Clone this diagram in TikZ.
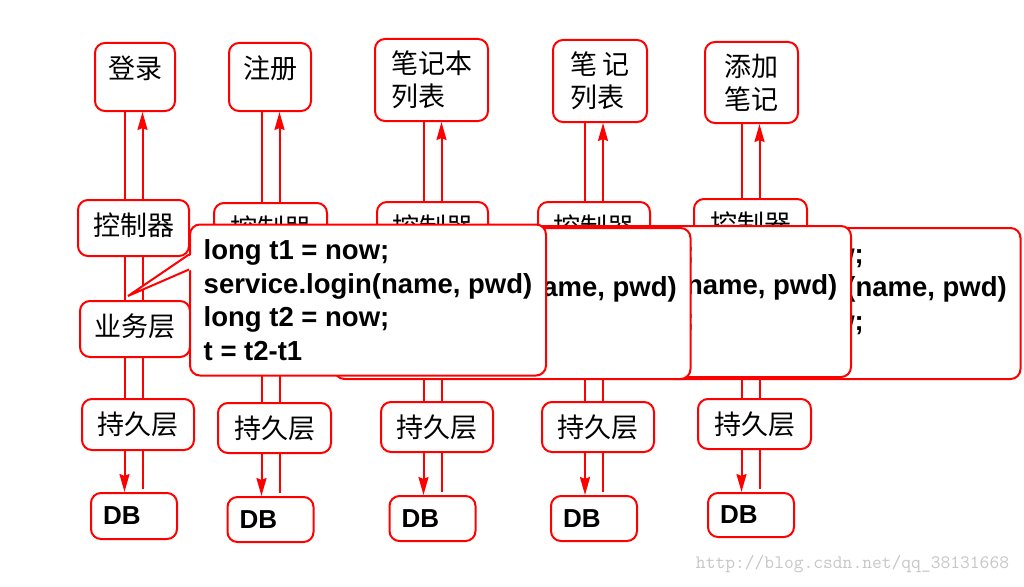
\documentclass[tikz,border=0pt]{standalone}
\usepackage{fontspec}
\newfontfamily\cjk{Noto Sans CJK SC}
\newfontfamily\codefont{Liberation Sans}
\usetikzlibrary{arrows.meta}

\begin{document}
\begin{tikzpicture}[x=1pt,y=-1pt,
  box/.style={draw=red,line width=2pt,fill=white,rounded corners=10pt,inner sep=4pt},
  page/.style={box,font=\cjk\fontsize{27}{33}\selectfont,align=left},
  layer/.style={box,font=\cjk\fontsize{27}{33}\selectfont,minimum height=56pt},
  dbbox/.style={box,font=\codefont\bfseries\fontsize{26}{30}\selectfont,inner xsep=12pt,text width=62pt,align=left},
  note/.style={box,font=\codefont\bfseries\fontsize{27.5}{33.5}\selectfont,align=left,inner xsep=13pt,minimum width=356pt,minimum height=151pt},
  link/.style={red,line width=2pt},
  up/.style={link,-{Stealth[length=18pt,width=10pt,inset=2pt]}}]

\fill[white] (0,0) rectangle (1024,586);
\useasboundingbox (0,0) rectangle (1024,586);

% 页面
\node[page,minimum width=80pt,minimum height=68pt,text depth=20pt] (v1) at (135,77) {登录};
\node[page,minimum width=82pt,minimum height=68pt,text depth=20pt] (v2) at (270,77) {注册};
\node[page,minimum width=113pt,minimum height=82pt] (v3) at (431.5,80) {笔记本\\列表};
\node[page,minimum width=94pt,minimum height=82pt] (v4) at (600,81) {笔\,记\\列表};
\node[page,minimum width=93pt,minimum height=81pt] (v5) at (751.5,82.5) {添加\\笔记};

% 控制器
\node[layer,minimum width=111pt,text depth=8pt] (c1) at (133.5,228) {控制器};
\node[layer,minimum width=113pt,text depth=8pt] (c2) at (270.5,231) {控制器};
\node[layer,minimum width=111pt,text depth=8pt] (c3) at (432.5,230) {控制器};
\node[layer,minimum width=112pt,text depth=8pt] (c4) at (594,230) {控制器};
\node[layer,minimum width=113pt,text depth=8pt] (c5) at (750.5,227) {控制器};
\node[layer,minimum width=110pt,text depth=8pt] (s1) at (135,329) {业务层};

% 持久层和数据库
\node[layer,minimum width=112pt,minimum height=51pt] (p1) at (138,424.5) {持久层};
\node[layer,minimum width=113pt,minimum height=50pt] (p2) at (274.5,428) {持久层};
\node[layer,minimum width=112pt,minimum height=50pt] (p3) at (437,427) {持久层};
\node[layer,minimum width=112pt,minimum height=50pt] (p4) at (598,427) {持久层};
\node[layer,minimum width=113pt,minimum height=50pt] (p5) at (754.5,424) {持久层};
\node[dbbox,minimum height=46pt] (db1) at (134,516) {DB};
\node[dbbox,minimum height=45pt] (db2) at (270.5,519.5) {DB};
\node[dbbox,minimum height=45pt] (db3) at (432.5,518.5) {DB};
\node[dbbox,minimum height=45pt] (db4) at (594,518.5) {DB};
\node[dbbox,minimum height=44pt] (db5) at (751,515) {DB};

% 第一列的连线
\draw[link] ([xshift=-9pt]c1.north) -- ([xshift=-9pt]c1.north |- v1.south)
  ([xshift=-9pt]c1.south) -- ([xshift=-9pt]c1.south |- s1.north)
  ([xshift=9pt]c1.south) -- ([xshift=9pt]c1.south |- s1.north)
  ([xshift=-9pt]c1.south |- s1.south) -- ([xshift=-9pt]c1.south |- p1.north)
  ([xshift=9pt]c1.south |- s1.south) -- ([xshift=9pt]c1.south |- p1.north)
  ([xshift=9pt]c1.south |- p1.south) -- ([xshift=9pt,yshift=3pt]c1.south |- db1.north);
\draw[up] ([xshift=9pt]c1.north) -- ([xshift=9pt]c1.north |- v1.south);
\draw[up] ([xshift=-9pt]c1.south |- p1.south) -- ([xshift=-9pt]c1.south |- db1.north);

% 其余各列的连线
\draw[link] ([xshift=-9pt]c2.north) -- ([xshift=-9pt]c2.north |- v2.south)
  ([xshift=-9pt]c2.south) -- ([xshift=-9pt]c2.south |- p2.north)
  ([xshift=9pt]c2.south) -- ([xshift=9pt]c2.south |- p2.north)
  ([xshift=9pt]c2.south |- p2.south) -- ([xshift=9pt,yshift=3pt]c2.south |- db2.north);
\draw[up] ([xshift=9pt]c2.north) -- ([xshift=9pt]c2.north |- v2.south);
\draw[up] ([xshift=-9pt]c2.south |- p2.south) -- ([xshift=-9pt]c2.south |- db2.north);

\draw[link] ([xshift=-9pt]c3.north) -- ([xshift=-9pt]c3.north |- v3.south)
  ([xshift=-9pt]c3.south) -- ([xshift=-9pt]c3.south |- p3.north)
  ([xshift=9pt]c3.south) -- ([xshift=9pt]c3.south |- p3.north)
  ([xshift=9pt]c3.south |- p3.south) -- ([xshift=9pt,yshift=3pt]c3.south |- db3.north);
\draw[up] ([xshift=9pt]c3.north) -- ([xshift=9pt]c3.north |- v3.south);
\draw[up] ([xshift=-9pt]c3.south |- p3.south) -- ([xshift=-9pt]c3.south |- db3.north);

\draw[link] ([xshift=-9pt]c4.north) -- ([xshift=-9pt]c4.north |- v4.south)
  ([xshift=-9pt]c4.south) -- ([xshift=-9pt]c4.south |- p4.north)
  ([xshift=9pt]c4.south) -- ([xshift=9pt]c4.south |- p4.north)
  ([xshift=9pt]c4.south |- p4.south) -- ([xshift=9pt,yshift=3pt]c4.south |- db4.north);
\draw[up] ([xshift=9pt]c4.north) -- ([xshift=9pt]c4.north |- v4.south);
\draw[up] ([xshift=-9pt]c4.south |- p4.south) -- ([xshift=-9pt]c4.south |- db4.north);

\draw[link] ([xshift=-9pt]c5.north) -- ([xshift=-9pt]c5.north |- v5.south)
  ([xshift=-9pt]c5.south) -- ([xshift=-9pt]c5.south |- p5.north)
  ([xshift=9pt]c5.south) -- ([xshift=9pt]c5.south |- p5.north)
  ([xshift=9pt]c5.south |- p5.south) -- ([xshift=9pt,yshift=3pt]c5.south |- db5.north);
\draw[up] ([xshift=9pt]c5.north) -- ([xshift=9pt]c5.north |- v5.south);
\draw[up] ([xshift=-9pt]c5.south |- p5.south) -- ([xshift=-9pt]c5.south |- db5.north);

% 计时代码框, 由后往前
\node[note] (n4) at (842.5,303.5) {long t1 = now;\\service.login(name, pwd)\\long t2 = now;\\t = t2-t1};
\node[note] (n3) at (673,301.5) {long t1 = now;\\service.login(name, pwd)\\long t2 = now;\\t = t2-t1};
\node[note] (n2) at (512.5,303.5) {long t1 = now;\\service.login(name, pwd)\\long t2 = now;\\t = t2-t1};
\node[note] (n1) at (368,300) {long t1 = now;\\service.login(name, pwd)\\long t2 = now;\\t = t2-t1};

% 指向业务层的尖角
\coordinate (tip) at ([xshift=-7pt,yshift=4pt]s1.north);
\fill[white] ([xshift=3pt,yshift=-31pt]n1.north west) -- (tip) -- ([xshift=3pt,yshift=-46pt]n1.north west) -- cycle;
\draw[link,line join=miter] ([yshift=-31pt]n1.north west) -- (tip) -- ([yshift=-46pt]n1.north west);

% 水印
\node[text=black!22,font=\ttfamily\fontsize{19}{19}\selectfont] (mark) at (852.5,564) {http://blog.csdn.net/qq\_38131668};

\end{tikzpicture}
\end{document}
